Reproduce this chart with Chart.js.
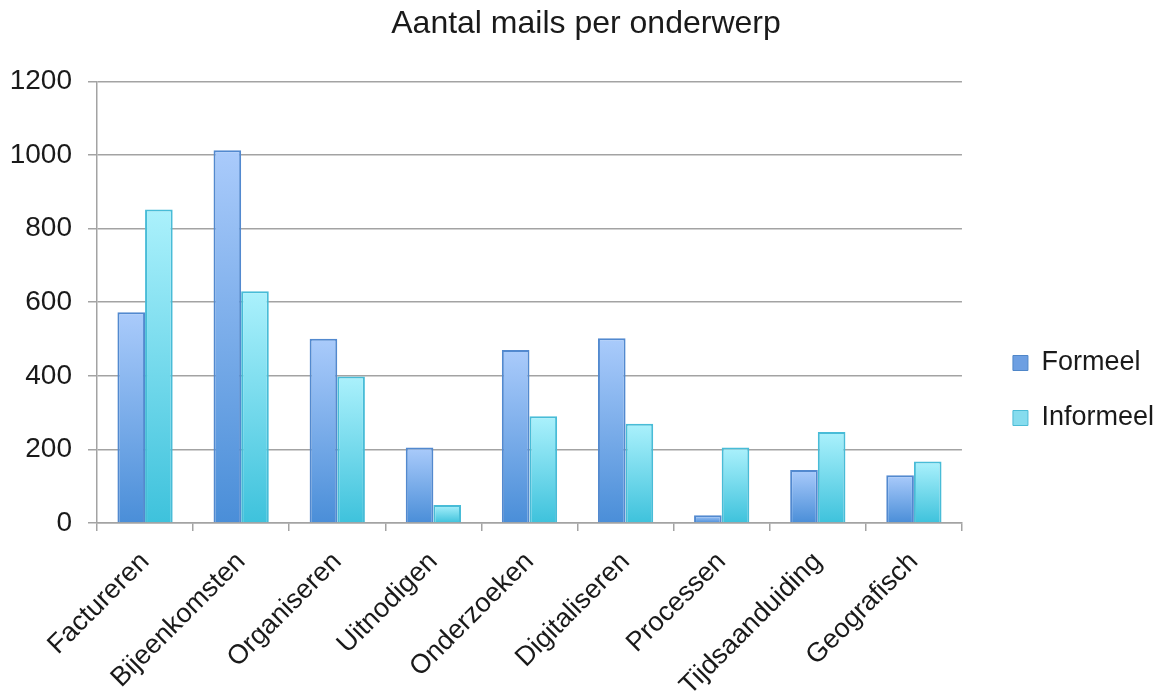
<!DOCTYPE html>
<html>
<head>
<meta charset="utf-8">
<title>Aantal mails per onderwerp</title>
<script src="https://cdn.jsdelivr.net/npm/chart.js@4/dist/chart.umd.min.js"></script>
<style>
  html, body { margin: 0; padding: 0; background: #ffffff; }
  #wrap { width: 1165px; height: 696px; position: relative; }
</style>
</head>
<body>
<div id="wrap"><canvas id="chart" width="1165" height="696"></canvas></div>
<script>
// Categories and mail counts per subject
const categories = ['Factureren', 'Bijeenkomsten', 'Organiseren', 'Uitnodigen', 'Onderzoeken', 'Digitaliseren', 'Processen', 'Tijdsaanduiding', 'Geografisch'];
const formeel   = [573, 1013, 501, 205, 470, 502, 21, 144, 130];
const informeel = [852, 630, 398, 49, 290, 270, 205, 247, 167];
const seriesNames = ['Formeel', 'Informeel'];
const yTicks = [0, 200, 400, 600, 800, 1000, 1200];

const FONT = "'Liberation Sans', Arial, Helvetica, sans-serif";
const TEXT = '#1a1a1a';
const GRID = '#a3a3a3';

// Vertical gradient spanning each bar from its top down to the baseline
function barGradient(top, bottom, solid) {
  return (ctx) => {
    const chart = ctx.chart;
    if (!chart.chartArea || typeof ctx.raw !== 'number') return solid;
    const y = chart.scales.y;
    const y0 = y.getPixelForValue(ctx.raw);
    const y1 = y.getPixelForValue(0);
    if (!isFinite(y0) || !isFinite(y1) || y0 === y1) return solid;
    const g = chart.ctx.createLinearGradient(0, y0, 0, y1);
    g.addColorStop(0, top);
    g.addColorStop(1, bottom);
    return g;
  };
}

const legendFill = ['#6d9fe2', '#86dcee'];
const legendStroke = ['#4f86c8', '#4cbcd6'];

new Chart(document.getElementById('chart'), {
  type: 'bar',
  data: {
    labels: categories,
    datasets: [
      {
        label: seriesNames[0],
        data: formeel,
        backgroundColor: barGradient('#aacbfb', '#4a8ed8', '#6d9fe2'),
        borderColor: '#5289cf',
        borderWidth: 2,
        categoryPercentage: 0.575,
        barPercentage: 1.0
      },
      {
        label: seriesNames[1],
        data: informeel,
        backgroundColor: barGradient('#abf1fc', '#3ec2dc', '#86dcee'),
        borderColor: '#48bcd7',
        borderWidth: 2,
        categoryPercentage: 0.575,
        barPercentage: 1.0
      }
    ]
  },
  options: {
    responsive: false,
    animation: false,
    devicePixelRatio: 1,
    layout: { padding: { left: 8, right: 1, top: 0, bottom: 0 } },
    plugins: {
      title: {
        display: true,
        text: 'Aantal mails per onderwerp',
        color: TEXT,
        font: { family: FONT, size: 32, weight: 'normal' },
        padding: { top: 5, bottom: 38 }
      },
      legend: {
        position: 'right',
        align: 'center',
        title: { display: true, text: '', font: { size: 10 }, padding: { top: 0, bottom: 73 } },
        labels: {
          color: TEXT,
          font: { family: FONT, size: 27 },
          boxWidth: 15,
          boxHeight: 15,
          padding: 28,
          generateLabels(chart) {
            const items = Chart.defaults.plugins.legend.labels.generateLabels(chart);
            items.forEach((it, i) => {
              it.fillStyle = legendFill[i];
              it.strokeStyle = legendStroke[i];
              it.lineWidth = 1;
            });
            return items;
          }
        }
      },
      tooltip: { enabled: false }
    },
    scales: {
      x: {
        offset: true,
        grid: {
          display: true,
          drawOnChartArea: false,
          drawTicks: true,
          tickLength: 8,
          color: GRID,
          lineWidth: 1.5,
          offset: true
        },
        border: { display: true, color: GRID, width: 1.5 },
        ticks: {
          color: TEXT,
          font: { family: FONT, size: 27 },
          maxRotation: 45,
          minRotation: 45,
          autoSkip: false,
          padding: 15
        },
        afterFit(scale) { scale.height = 173; }
      },
      y: {
        min: 0,
        max: 1200,
        grid: {
          color: GRID,
          lineWidth: 1.5,
          drawTicks: true,
          tickLength: 9
        },
        border: { display: true, color: GRID, width: 1.5 },
        afterBuildTicks(scale) { scale.ticks = yTicks.map(v => ({ value: v })); },
        ticks: {
          color: TEXT,
          font: { family: FONT, size: 28 },
          padding: 16,
          callback: (v) => String(v)
        },
        afterFit(scale) { scale.width = 89; }
      },
      gap: {
        type: 'linear',
        position: 'right',
        display: true,
        grid: { display: false },
        border: { display: false },
        ticks: { display: false },
        afterFit(scale) { scale.width = 23; }
      }
    }
  }
});
</script>
</body>
</html>
